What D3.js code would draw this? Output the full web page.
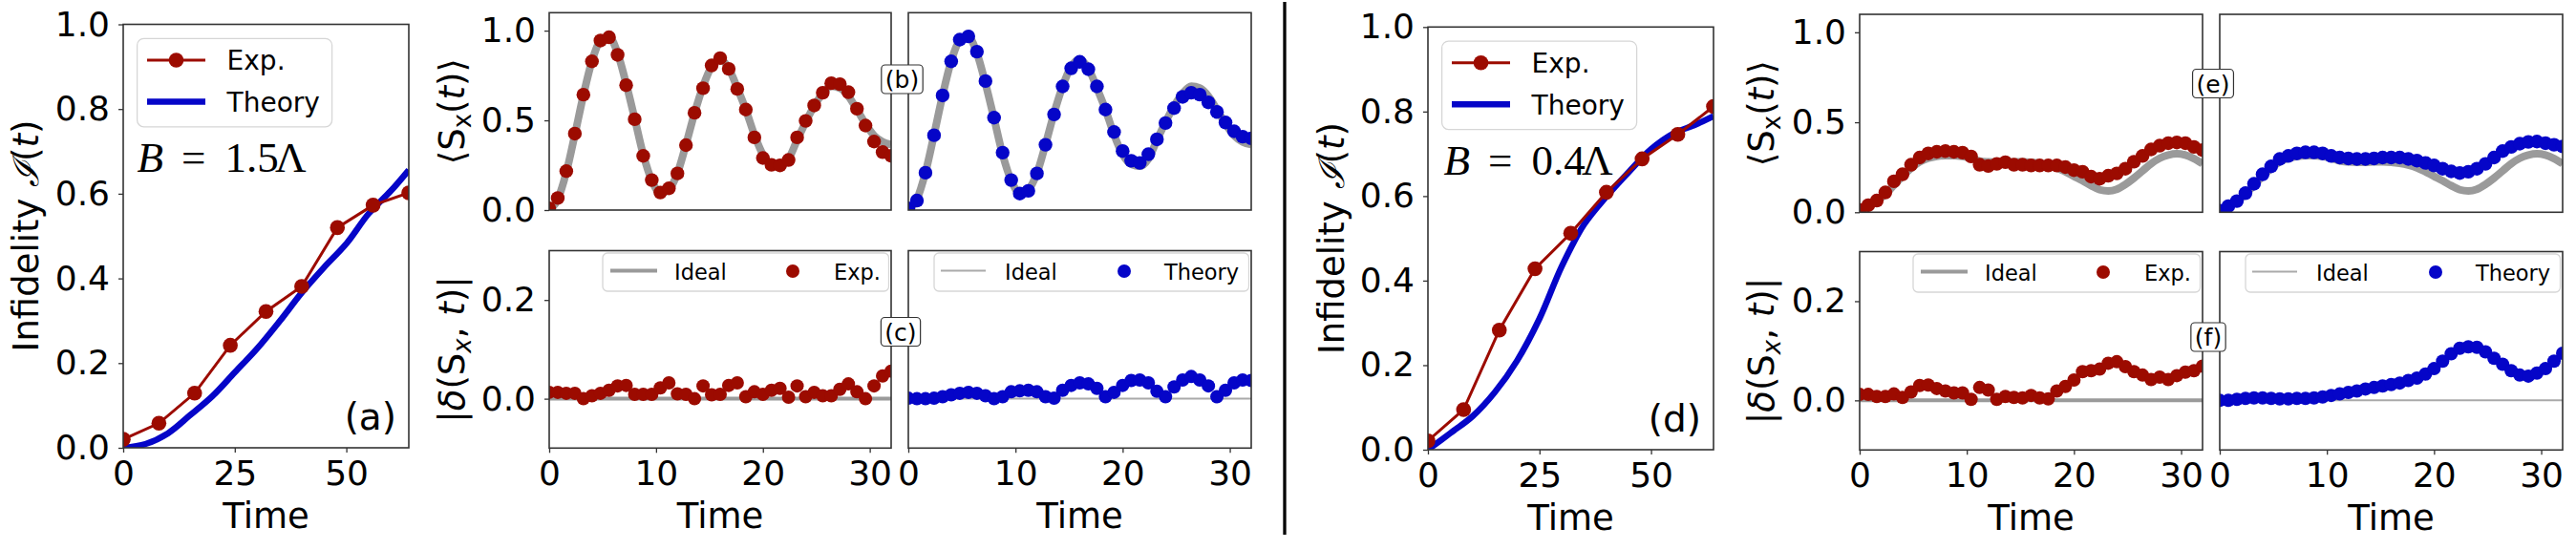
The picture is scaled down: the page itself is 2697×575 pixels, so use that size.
<!DOCTYPE html>
<html><head><meta charset="utf-8">
<script src="https://cdn.jsdelivr.net/npm/d3@7"></script>
<style>body{margin:0;background:#fff} svg{display:block} text{font-family:"DejaVu Sans",sans-serif;fill:#000}</style>
</head><body><svg id="c" width="2697" height="575"></svg>
<script>
// ---------------- data ----------------
const timeCoarse = [0,8,16,24,32,40,48,56,64];
const infExpB15 = [0.02,0.058,0.129,0.242,0.322,0.381,0.52,0.573,0.602];
const infExpB04 = [0.021,0.095,0.283,0.428,0.512,0.609,0.688,0.746,0.812];
const timeTheory = [0,5,10,15,20,25,30,35,40,45,50,55,60,64];
const infTheoryB15 = [0,0.009,0.034,0.077,0.122,0.178,0.234,0.298,0.366,0.426,0.482,0.553,0.607,0.656];
const infTheoryB04 = [0,0.039,0.079,0.136,0.211,0.31,0.434,0.533,0.599,0.657,0.711,0.748,0.769,0.789];

const timeFine = [0,0.8,1.6,2.4,3.2,4,4.8,5.6,6.4,7.2,8,8.8,9.6,10.4,11.2,12,12.8,13.6,14.4,15.2,16,16.8,17.6,18.4,19.2,20,20.8,21.6,22.4,23.2,24,24.8,25.6,26.4,27.2,28,28.8,29.6,30.4,31.2,32];

const sxIdealB15 = [0,0.06,0.21,0.42,0.64,0.83,0.945,0.965,0.875,0.705,0.51,0.31,0.165,0.095,0.115,0.205,0.365,0.54,0.69,0.80,0.84,0.79,0.68,0.56,0.42,0.31,0.255,0.245,0.285,0.39,0.49,0.58,0.65,0.69,0.68,0.635,0.56,0.48,0.415,0.38,0.365];
const sxExpB15 = [0.01,0.067,0.217,0.426,0.643,0.829,0.945,0.963,0.865,0.696,0.506,0.302,0.167,0.098,0.121,0.204,0.362,0.542,0.679,0.806,0.847,0.787,0.675,0.56,0.405,0.29,0.252,0.249,0.279,0.405,0.497,0.583,0.654,0.707,0.702,0.657,0.565,0.471,0.382,0.323,0.302];
const sxTheoryB15 = [0.009,0.053,0.208,0.417,0.639,0.829,0.95,0.968,0.883,0.719,0.515,0.32,0.167,0.092,0.107,0.204,0.364,0.533,0.689,0.79,0.826,0.785,0.689,0.56,0.435,0.329,0.275,0.263,0.311,0.394,0.485,0.568,0.631,0.654,0.643,0.6,0.547,0.488,0.439,0.409,0.4];
const devExpB15 = [0.013,0.013,0.011,0.011,0.0,0.006,0.011,0.017,0.026,0.027,0.009,0.009,0.009,0.022,0.032,0.01,0.009,0.0,0.026,0.008,0.009,0.027,0.032,0.004,0.014,0.009,0.017,0.021,0.003,0.026,0.004,0.013,0.006,0.006,0.019,0.03,0.014,0.0,0.026,0.046,0.056];
const devTheoryB15 = [0.001,0,0,0.001,0.004,0.008,0.011,0.013,0.011,0.006,0,0.004,0.014,0.016,0.017,0.014,0.004,0.001,0.017,0.027,0.032,0.03,0.021,0.004,0.013,0.027,0.037,0.038,0.032,0.015,0.004,0.024,0.038,0.045,0.038,0.026,0.004,0.017,0.032,0.038,0.037];

const sxIdealB04 = [0,0.03,0.06,0.10,0.15,0.20,0.245,0.28,0.30,0.31,0.315,0.315,0.31,0.30,0.285,0.28,0.278,0.278,0.28,0.28,0.278,0.272,0.262,0.247,0.225,0.2,0.175,0.148,0.125,0.118,0.128,0.155,0.19,0.23,0.27,0.30,0.318,0.325,0.318,0.298,0.27];
const sxExpB04 = [0.012,0.039,0.065,0.11,0.172,0.211,0.264,0.304,0.327,0.336,0.34,0.336,0.331,0.31,0.264,0.257,0.269,0.278,0.264,0.264,0.26,0.26,0.26,0.26,0.251,0.234,0.225,0.198,0.186,0.203,0.216,0.242,0.281,0.313,0.349,0.37,0.384,0.388,0.384,0.363,0.345];
const sxTheoryB04 = [0.009,0.034,0.062,0.106,0.158,0.211,0.255,0.296,0.313,0.327,0.333,0.333,0.327,0.313,0.304,0.299,0.296,0.296,0.299,0.304,0.304,0.304,0.296,0.287,0.274,0.26,0.242,0.227,0.218,0.225,0.242,0.269,0.304,0.34,0.363,0.381,0.391,0.393,0.384,0.375,0.366];
const devExpB04 = [0.012,0.012,0.008,0.008,0.013,0.006,0.017,0.030,0.031,0.024,0.019,0.015,0.015,0.002,0.026,0.021,0.002,0.008,0.006,0.005,0.010,0.005,0.003,0.019,0.028,0.041,0.058,0.060,0.063,0.075,0.078,0.068,0.058,0.051,0.042,0.047,0.042,0.050,0.057,0.060,0.069];
const devTheoryB04 = [0,0,0.002,0.004,0.005,0.005,0.004,0.003,0.003,0.004,0.004,0.005,0.007,0.010,0.013,0.016,0.019,0.023,0.026,0.029,0.032,0.035,0.040,0.045,0.053,0.064,0.079,0.094,0.105,0.108,0.107,0.098,0.085,0.073,0.060,0.051,0.049,0.055,0.064,0.079,0.095];

const mainXTicks = [0,25,50];
const mainYTicks = [0,0.2,0.4,0.6,0.8,1.0];
const topYTicks = [0,0.5,1.0];
const botYTicks = [0,0.2];
const subXTicks = [0,10,20,30];
const idealZero = [0,0];
const idealZeroT = [0,32];

// ---------------- drawing ----------------
const RED = "#9c0b00", BLUE = "#0505c8", GRAY = "#9a9a9a", SPINE = "#333";
const svg = d3.select("#c");
svg.append("rect").attr("width",2697).attr("height",575).attr("fill","#fff");
let cid = 0;
function panel(b, xd, yd){
  const x = d3.scaleLinear().domain(xd).range([b.x0,b.x1]);
  const y = d3.scaleLinear().domain(yd).range([b.y1,b.y0]);
  const id = "clip"+(cid++);
  svg.append("clipPath").attr("id",id).append("rect")
    .attr("x",b.x0).attr("y",b.y0).attr("width",b.x1-b.x0).attr("height",b.y1-b.y0);
  const plot = svg.append("g").attr("clip-path",`url(#${id})`);
  return {x,y,plot,b};
}
function spines(p){
  svg.append("rect").attr("x",p.b.x0).attr("y",p.b.y0).attr("width",p.b.x1-p.b.x0).attr("height",p.b.y1-p.b.y0)
    .attr("fill","none").attr("stroke",SPINE).attr("stroke-width",1.6);
}
function styleAxis(g, fs){
  g.select(".domain").remove();
  g.selectAll(".tick line").attr("stroke",SPINE).attr("stroke-width",1.3);
  g.selectAll(".tick text").attr("font-size",fs).style("font-family","DejaVu Sans").attr("fill","#000");
}
function xAxis(p, ticks, fmt, fs){
  const g = svg.append("g").attr("transform",`translate(0,${p.b.y1})`)
    .call(d3.axisBottom(p.x).tickValues(ticks).tickSize(5).tickPadding(8).tickFormat(fmt));
  styleAxis(g, fs);
}
function yAxis(p, ticks, fmt, fs){
  const g = svg.append("g").attr("transform",`translate(${p.b.x0},0)`)
    .call(d3.axisLeft(p.y).tickValues(ticks).tickSize(5).tickPadding(9).tickFormat(fmt));
  styleAxis(g, fs);
}
function lineOf(p, xs, ys, curve){
  return d3.line().x((d,i)=>p.x(xs[i])).y(d=>p.y(d)).curve(curve||d3.curveLinear)(ys);
}
function dots(p, xs, ys, r, color){
  p.plot.selectAll(null).data(ys).enter().append("circle")
    .attr("cx",(d,i)=>p.x(xs[i])).attr("cy",d=>p.y(d)).attr("r",r).attr("fill",color);
}
function timeLabel(p){
  svg.append("text").attr("x",(p.b.x0+p.b.x1)/2).attr("y",p.b.y1+84).attr("text-anchor","middle")
    .attr("font-size",37).text("Time");
}
function rotLabel(x, y, build){
  const t = svg.append("text").attr("transform",`translate(${x},${y}) rotate(-90)`)
    .attr("text-anchor","middle").attr("font-size",37);
  build(t);
}
function sxLabel(t){
  t.append("tspan").text("⟨S");
  t.append("tspan").attr("font-size",26).attr("dy",7).text("x");
  t.append("tspan").attr("dy",-7).text("(");
  t.append("tspan").attr("font-style","italic").text("t");
  t.append("tspan").text(")⟩");
}
function devLabel(t){
  t.append("tspan").text("|");
  t.append("tspan").attr("font-style","italic").text("δ");
  t.append("tspan").text("(S");
  t.append("tspan").attr("font-size",26).attr("dy",7).attr("font-style","italic").text("x");
  t.append("tspan").attr("dy",-7).text(", ");
  t.append("tspan").attr("font-style","italic").text("t");
  t.append("tspan").text(")|");
}
function infLabel(t){
  t.append("tspan").text("Infidelity ");
  t.append("tspan").style("font-family","DejaVu Serif").attr("font-style","italic").text("ℐ");
  t.append("tspan").text("(");
  t.append("tspan").attr("font-style","italic").text("t");
  t.append("tspan").text(")");
}
function tagBox(cx, cy, label){
  const g = svg.append("g");
  const t = g.append("text").attr("x",cx).attr("y",cy+9).attr("text-anchor","middle").attr("font-size",25).text(label);
  const w = t.node().getComputedTextLength()+8;
  g.insert("rect","text").attr("x",cx-w/2).attr("y",cy-15).attr("width",w).attr("height",30)
    .attr("rx",4).attr("fill","#fff").attr("stroke","#333").attr("stroke-width",1.2);
}

function mainPanel(b, exp, th, bNum, tag, bOff){
  const p = panel(b,[0,64],[0,1]);
  p.plot.append("path").attr("d",lineOf(p,timeTheory,th,d3.curveCatmullRom)).attr("fill","none")
    .attr("stroke",BLUE).attr("stroke-width",6.5);
  p.plot.append("path").attr("d",lineOf(p,timeCoarse,exp)).attr("fill","none").attr("stroke",RED).attr("stroke-width",3);
  dots(p,timeCoarse,exp,7.8,RED);
  spines(p);
  xAxis(p,mainXTicks,d3.format("d"),36);
  yAxis(p,mainYTicks,d3.format(".1f"),36);
  timeLabel(p);
  // legend
  const lx = b.x0+14.6, ly = b.y0+14.8;
  svg.append("rect").attr("x",lx).attr("y",ly).attr("width",204).attr("height",92.5).attr("rx",7)
    .attr("fill","#fff").attr("fill-opacity",0.85).attr("stroke","#d6d6d6").attr("stroke-width",1.3);
  svg.append("line").attr("x1",b.x0+25).attr("x2",b.x0+86).attr("y1",b.y0+37.5).attr("y2",b.y0+37.5).attr("stroke",RED).attr("stroke-width",3);
  svg.append("circle").attr("cx",b.x0+55.5).attr("cy",b.y0+37.5).attr("r",7.8).attr("fill",RED);
  svg.append("line").attr("x1",b.x0+25).attr("x2",b.x0+86).attr("y1",b.y0+81).attr("y2",b.y0+81).attr("stroke",BLUE).attr("stroke-width",6.5);
  svg.append("text").attr("x",b.x0+108.6).attr("y",b.y0+47.5).attr("font-size",28).text("Exp.");
  svg.append("text").attr("x",b.x0+108.6).attr("y",b.y0+91.2).attr("font-size",28).text("Theory");
  // B text (serif, math style), glyph groups placed like the TeX layout
  const bx = b.x0+bOff, by = b.y0+154.2;
  const bt = svg.append("text").attr("y",by).attr("font-size",45)
    .style("font-family","'Liberation Serif', 'DejaVu Serif', serif");
  bt.append("tspan").attr("x",bx).attr("font-style","italic").text("B");
  bt.append("tspan").attr("x",bx+46.5).text("=");
  bt.append("tspan").attr("x",bx+92).text(bNum);
  bt.append("tspan").attr("x",bx+144.5).text("Λ");
  // tag
  svg.append("text").attr("x",b.x1-13).attr("y",b.y1-19).attr("text-anchor","end").attr("font-size",39).text(tag);
}

function topPanel(b, ideal, pts, color, withY){
  const p = panel(b,[0,32],[0,1.1]);
  p.plot.append("path").attr("d",lineOf(p,timeFine,ideal,d3.curveMonotoneX)).attr("fill","none")
    .attr("stroke",GRAY).attr("stroke-width",8);
  dots(p,timeFine,pts,7.2,color);
  spines(p);
  if(withY) yAxis(p,topYTicks,d3.format(".1f"),36);
}
function botPanel(b, pts, color, withY, thick, name, leftOff){
  const p = panel(b,[0,32],[-0.1,0.3]);
  p.plot.append("path").attr("d",lineOf(p,idealZeroT,idealZero)).attr("fill","none")
    .attr("stroke",thick?GRAY:"#aaaaaa").attr("stroke-width",thick?4:2);
  dots(p,timeFine,pts,7,color);
  spines(p);
  xAxis(p,subXTicks,d3.format("d"),36);
  if(withY) yAxis(p,botYTicks,d3.format(".1f"),36);
  timeLabel(p);
  // legend
  const x0=b.x0, y0=b.y0;
  svg.append("rect").attr("x",x0+leftOff).attr("y",y0+2.5).attr("width",(b.x1-2.5)-(x0+leftOff)).attr("height",40).attr("rx",5)
    .attr("fill","#fff").attr("fill-opacity",0.85).attr("stroke","#d6d6d6").attr("stroke-width",1.3);
  const o = leftOff-56;
  svg.append("line").attr("x1",x0+64+o+ (thick?0:-1)).attr("x2",x0+113+o-(thick?0:3)).attr("y1",y0+21).attr("y2",y0+21)
    .attr("stroke",thick?GRAY:"#aaaaaa").attr("stroke-width",thick?4:2);
  svg.append("text").attr("x",x0+131+o-(thick?0:1)).attr("y",y0+30.5).attr("font-size",22.5).text("Ideal");
  svg.append("circle").attr("cx",x0+255+o).attr("cy",y0+21.5).attr("r",7).attr("fill",color);
  svg.append("text").attr("x",x0+298+o-(thick?0:1)).attr("y",y0+30.5).attr("font-size",22.5).text(name);
}

// frames
const A  = {x0:129, x1:428, y0:25.5, y1:469};
const B1 = {x0:575, x1:933, y0:13.3, y1:220};
const B2 = {x0:951, x1:1310, y0:13.3, y1:220};
const C1 = {x0:575, x1:933, y0:262.5, y1:469.3};
const C2 = {x0:951, x1:1310, y0:262.5, y1:469.3};
const D  = {x0:1495, x1:1794, y0:28.3, y1:471};
const E1 = {x0:1947, x1:2306, y0:15, y1:222.3};
const E2 = {x0:2324, x1:2683, y0:15, y1:222.3};
const F1 = {x0:1947, x1:2306, y0:263.5, y1:471.3};
const F2 = {x0:2324, x1:2683, y0:263.5, y1:471.3};

mainPanel(A, infExpB15, infTheoryB15, "1.5", "(a)", 14.5);
mainPanel(D, infExpB04, infTheoryB04, "0.4", "(d)", 16.5);

topPanel(B1, sxIdealB15, sxExpB15, RED, true);
topPanel(B2, sxIdealB15, sxTheoryB15, BLUE, false);
botPanel(C1, devExpB15, RED, true, true, "Exp.", 56);
botPanel(C2, devTheoryB15, BLUE, false, false, "Theory", 27);

topPanel(E1, sxIdealB04, sxExpB04, RED, true);
topPanel(E2, sxIdealB04, sxTheoryB04, BLUE, false);
botPanel(F1, devExpB04, RED, true, true, "Exp.", 56);
botPanel(F2, devTheoryB04, BLUE, false, false, "Theory", 27);

// y labels
rotLabel(40, 247, infLabel);
rotLabel(1407, 249.6, infLabel);
rotLabel(486, 116.7, sxLabel);
rotLabel(1857, 118.6, sxLabel);
rotLabel(486, 366, devLabel);
rotLabel(1857, 367.5, devLabel);

// tags
tagBox(944.5, 83, "(b)");
tagBox(943, 347.5, "(c)");
tagBox(2317, 87.5, "(e)");
tagBox(2312, 353, "(f)");

// separator
svg.append("line").attr("x1",1345).attr("x2",1345).attr("y1",2).attr("y2",560).attr("stroke","#000").attr("stroke-width",3.3);
</script></body></html>
